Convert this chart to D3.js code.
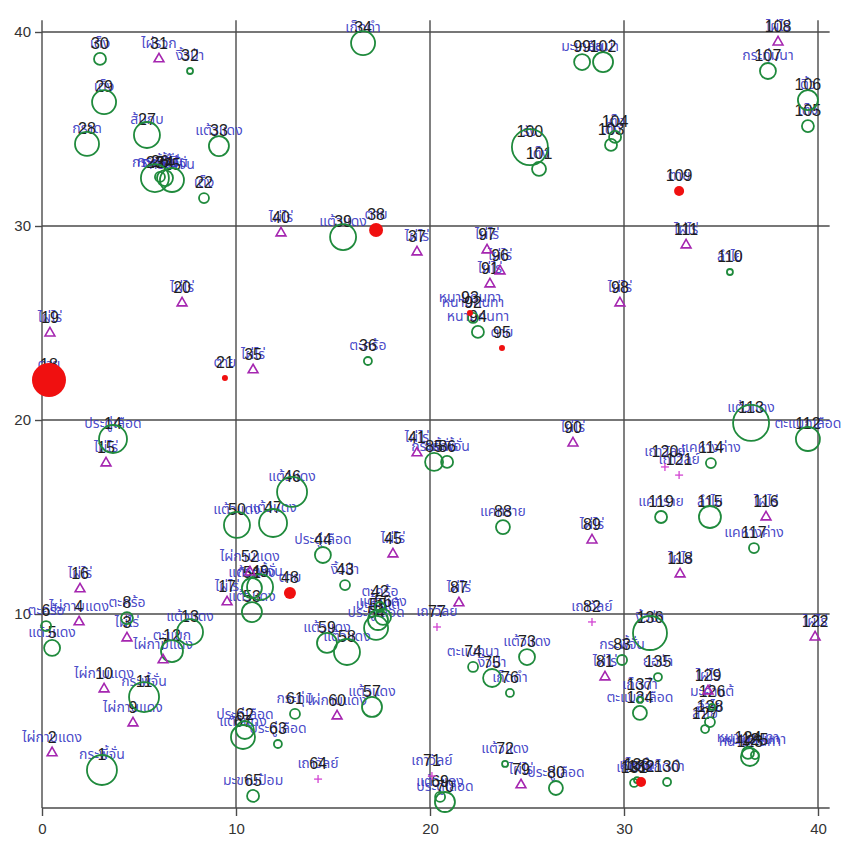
<!DOCTYPE html>
<html>
<head>
<meta charset="utf-8">
<script src="https://cdn.jsdelivr.net/npm/d3@7/dist/d3.min.js"></script>
<style>
  html, body { margin: 0; padding: 0; background: #fff; }
  svg { display: block; }
  .tick text { font-family: Arial, "Liberation Sans", sans-serif; font-size: 15px; fill: #333; }
</style>
</head>
<body>
<svg id="chart" width="843" height="843"></svg>
<script>
// Stem map of a 40 x 40 m plot: tree number, species, position (m), marker kind, size (stem diameter)
// kind: c = living tree, r = dead stem, t = bamboo clump, p = climber
const treeIds = [30,31,32,29,28,27,33,23,24,25,26,22,34,40,39,38,37,99,102,100,101,103,104,97,96,91,98,
  108,107,106,105,109,111,110,20,19,18,21,14,15,35,36,92,93,94,95,41,85,86,90,88,89,46,50,47,44,45,
  113,112,114,120,121,119,115,116,117,118,16,52,49,51,17,53,48,43,4,8,3,6,5,12,13,7,10,11,9,2,1,
  42,54,55,56,59,58,61,60,57,62,67,63,64,65,87,77,82,74,75,76,73,72,79,80,70,69,71,81,83,134,137,
  136,122,135,129,126,128,127,123,124,125,131,132,130,133];

const treeNames = ["เต็ง","ไผ่รวก","งิ้วป่า","เต็ง","กราด","ส้มกบ","แต้วแดง","กระพี้จั่น","กระพี้จั่น","กระพี้จั่น","กระพี้จั่น","เต็ง",
  "เก็ดดำ","ไผ่ไร่","แต้วแดง","ตาย","ไผ่ไร่","มะเกลือ","มะเม่า","รัง","เต็ง","เต็ง","เต็ง","ไผ่ไร่","ไผ่ไร่","ไผ่ไร่","ไผ่ไร่",
  "ไผ่ไร่","กระทุ่มนา","ติ้ว","เต็ง","ตาย","ไผ่ไร่","ลำไย","ไผ่ไร่","ไผ่ไร่","ตาย","ตาย","ประดู่เลือด","ไผ่ไร่","ไผ่ไร่","ตะคร้อ",
  "หนามคนทา","หนามคนทา","หนามคนทา","ตาย","ไผ่ไร่","กระพี้จั่น","กระพี้จั่น","ไผ่ไร่","แคทราย","ไผ่ไร่","แต้วแดง","แต้วแดง","แต้วแดง",
  "ประดู่เลือด","ไผ่ไร่","แต้วแดง","ตะแบกเลือด","แคหางค่าง","เถาวัลย์","เถาวัลย์","แคทราย","ลำไย","ไผ่ไร่","แคหางค่าง","ไผ่ไร่",
  "ไผ่ไร่","ไผ่กาบแดง","กระพี้จั่น","แต้วแดง","ไผ่ไร่","แต้วแดง","ตาย","งิ้วป่า","ไผ่กาบแดง","ตะคร้อ","ไผ่ไร่","ตะคร้อ","แต้วแดง",
  "ตะแบก","แต้วแดง","ไผ่กาบแดง","ไผ่กาบแดง","กระพี้จั่น","ไผ่กาบแดง","ไผ่กาบแดง","กระพี้จั่น",
  "ตะคร้อ","ประดู่เลือด","มะค่าแต้","แต้วแดง","แต้วแดง","แต้วแดง","กระทุ่ม","ไผ่กาบแดง","แต้วแดง","ประดู่เลือด","แต้วแดง","ประดู่เลือด",
  "เถาวัลย์","มะขามป้อม","ไผ่ไร่","เถาวัลย์","เถาวัลย์","ตะแบกนา","งิ้วป่า","เก็ดดำ","แต้วแดง","แต้วแดง","ไผ่ไร่","ประดู่เลือด",
  "ประดู่เลือด","แต้วแดง","เถาวัลย์","ไผ่ไร่","กระพี้จั่น","ตะแบกเลือด","เก็ดดำ",
  "งิ้วป่า","ไผ่ไร่","ยอป่า","ไผ่ไร่","มะค่าแต้","ลำไย","ลำไย","หนามคนทา","หนามคนทา","หนามคนทา","เก็ดดำ","ตาย","เก็ดดำ","เก็ดดำ"];

const treeX = [2.99,6.03,7.63,3.20,2.32,5.41,9.12,5.82,6.34,6.70,6.08,8.35,16.55,12.32,15.52,17.22,19.33,27.84,28.92,25.15,25.62,29.33,29.54,22.94,23.61,23.09,29.79,
  37.94,37.42,39.48,39.48,32.84,33.20,35.46,7.22,0.41,0.36,9.43,3.66,3.30,10.88,16.80,22.22,22.06,22.47,23.71,19.33,20.21,20.88,27.37,23.76,28.35,12.89,10.05,11.91,14.48,18.09,
  36.55,39.48,34.48,32.11,32.84,31.91,34.43,37.32,36.70,32.89,1.96,10.72,11.24,10.82,9.54,10.82,12.78,15.62,1.91,4.38,4.38,0.21,0.52,6.70,7.63,6.24,3.20,5.26,4.69,0.52,3.09,
  17.42,17.22,17.32,17.58,14.69,15.72,13.04,15.21,17.01,10.46,10.36,12.16,14.23,10.88,21.49,20.36,28.35,22.22,23.20,24.12,25.00,23.87,24.69,26.49,20.77,20.52,20.10,29.02,29.90,30.82,30.82,
  31.34,39.85,31.75,34.33,34.54,34.43,34.18,36.49,36.39,36.75,30.52,30.88,32.22,30.67];

const treeY = [38.61,38.61,37.99,36.39,34.23,34.69,34.12,32.47,32.47,32.37,32.53,31.44,39.43,29.64,29.43,29.79,28.66,38.45,38.45,34.07,32.94,34.18,34.59,28.76,27.68,27.01,26.03,
  39.48,37.99,36.49,35.15,31.80,29.02,27.63,26.03,24.48,22.06,22.16,19.02,17.78,22.58,23.04,25.26,25.52,24.54,23.71,18.30,17.84,17.84,18.81,14.48,13.81,16.29,14.59,14.69,13.04,13.09,
  19.85,19.02,17.78,17.58,17.16,15.00,15.00,15.00,13.40,12.06,11.29,12.16,11.39,11.34,10.62,10.10,11.08,11.49,9.59,9.79,8.76,9.38,8.25,8.09,9.07,7.63,6.13,5.72,4.38,2.84,1.96,
  10.36,9.28,9.69,9.85,8.51,8.04,4.85,4.74,5.21,4.02,3.66,3.30,1.49,0.62,10.57,9.33,9.59,7.27,6.70,5.93,7.78,2.27,1.19,1.03,0.31,0.57,1.65,6.75,7.63,4.90,5.57,
  9.02,8.81,6.75,6.03,5.21,4.43,4.07,2.63,2.84,2.73,1.29,1.34,1.34,1.44];

const treeKind = ["c","t","c","c","c","c","c","c","c","c","c","c","c","t","c","r","t","c","c","c","c","c","c","t","t","t","t",
  "t","c","c","c","r","t","c","t","t","r","r","c","t","t","c","c","r","c","r","t","c","c","t","c","t","c","c","c","c","t",
  "c","c","c","p","p","c","c","t","c","t","t","t","c","c","t","c","r","c","t","c","t","c","c","c","c","t","t","c","t","t","c",
  "c","c","c","c","c","c","c","t","c","c","c","c","p","c","t","p","p","c","c","c","c","c","t","c","c","c","p","t","c","c","c",
  "c","t","c","t","c","c","c","c","c","c","c","r","c","c"];

const treeSize = [12,0,6,24,24,26,20,28,16,24,10,10,24,0,26,14,0,16,20,36,14,12,12,0,0,0,0,
  0,16,20,12,10,0,6,0,0,34,6,28,0,0,8,10,6,12,6,0,18,12,0,14,0,30,26,28,16,0,
  36,24,10,0,0,12,22,0,10,0,0,0,26,20,0,20,12,10,0,12,0,10,16,22,26,0,0,30,0,0,30,
  10,24,20,16,20,26,10,0,20,18,24,8,0,12,0,0,0,10,18,8,16,6,0,14,20,10,0,0,10,14,6,
  34,0,8,0,6,10,8,18,12,8,8,10,8,6];

const xTicks = [0, 10, 20, 30, 40];
const yTicks = [10, 20, 30, 40];

const trees = treeIds.map((id, i) => ({
  id, name: treeNames[i], x: treeX[i], y: treeY[i], kind: treeKind[i], size: treeSize[i]
}));

const svg = d3.select("#chart");
const x = d3.scaleLinear().domain([0, 40]).range([42, 818]);
const y = d3.scaleLinear().domain([0, 40]).range([808, 32]);
const r = d3.scaleLinear().domain([0, 40]).range([0, 20]);
const xMax = 40.6, yMax = 40.6;

const lineCol = "#4a4a4a";

// reference grid every 10 m
const grid = svg.append("g").attr("stroke", lineCol).attr("stroke-width", 1.4);
grid.selectAll("line.v").data(yTicks).join("line")
  .attr("x1", d => x(d)).attr("x2", d => x(d))
  .attr("y1", y(yMax)).attr("y2", y(0));
grid.selectAll("line.h").data(yTicks).join("line")
  .attr("x1", x(0)).attr("x2", x(xMax))
  .attr("y1", d => y(d)).attr("y2", d => y(d));

// axes
const gx = svg.append("g").attr("transform", `translate(0,${y(0)})`)
  .call(d3.axisBottom(x).tickValues(xTicks).tickSize(8).tickPadding(7).tickSizeOuter(0));
gx.select(".domain").remove();
gx.append("line").attr("x1", x(0)).attr("x2", x(xMax)).attr("y1", 0).attr("y2", 0)
  .attr("stroke", lineCol).attr("stroke-width", 1.4);

const gy = svg.append("g").attr("transform", `translate(${x(0)},0)`)
  .call(d3.axisLeft(y).tickValues(yTicks).tickSize(7).tickPadding(4).tickSizeOuter(0));
gy.select(".domain").remove();
gy.append("line").attr("x1", 0).attr("x2", 0).attr("y1", y(0)).attr("y2", y(yMax))
  .attr("stroke", lineCol).attr("stroke-width", 1.4);

svg.selectAll(".tick line").attr("stroke", lineCol).attr("stroke-width", 1.4);

// species names and tree numbers above each stem
const labels = svg.append("g");
labels.selectAll("text.name").data(trees).join("text")
  .attr("class", "name")
  .attr("x", d => x(d.x)).attr("y", d => y(d.y) - 11)
  .attr("text-anchor", "middle")
  .attr("font-family", "'Noto Sans Thai', 'Noto Sans', 'DejaVu Sans', sans-serif")
  .attr("font-size", 14)
  .attr("fill", "#3535c2")
  .attr("fill-opacity", 0.9)
  .text(d => d.name);

labels.selectAll("text.num").data(trees).join("text")
  .attr("class", "num")
  .attr("x", d => x(d.x)).attr("y", d => y(d.y) - 10)
  .attr("text-anchor", "middle")
  .attr("font-family", "Arial, 'Liberation Sans', sans-serif")
  .attr("font-size", 16)
  .attr("fill", "#1e1e1e")
  .text(d => d.id);

// stems
const marks = svg.append("g");
marks.selectAll("circle.tree").data(trees.filter(d => d.kind === "c")).join("circle")
  .attr("cx", d => x(d.x)).attr("cy", d => y(d.y)).attr("r", d => r(d.size))
  .attr("fill", "none").attr("stroke", "#1f8a3c").attr("stroke-width", 1.8);

marks.selectAll("circle.dead").data(trees.filter(d => d.kind === "r")).join("circle")
  .attr("cx", d => x(d.x)).attr("cy", d => y(d.y)).attr("r", d => r(d.size))
  .attr("fill", "#f01010");

const tri = d3.symbol().type(d3.symbolTriangle).size(42);
marks.selectAll("path.bamboo").data(trees.filter(d => d.kind === "t")).join("path")
  .attr("transform", d => `translate(${x(d.x)},${y(d.y)})`)
  .attr("d", tri)
  .attr("fill", "none").attr("stroke", "#a526b0").attr("stroke-width", 1.6);

marks.selectAll("g.vine").data(trees.filter(d => d.kind === "p")).join("g")
  .attr("transform", d => `translate(${x(d.x)},${y(d.y)})`)
  .each(function () {
    const g = d3.select(this);
    g.append("line").attr("x1", -4).attr("x2", 4).attr("y1", 0).attr("y2", 0);
    g.append("line").attr("x1", 0).attr("x2", 0).attr("y1", -4).attr("y2", 4);
  })
  .attr("stroke", "#d245d2").attr("stroke-width", 1.3);
</script>
</body>
</html>
